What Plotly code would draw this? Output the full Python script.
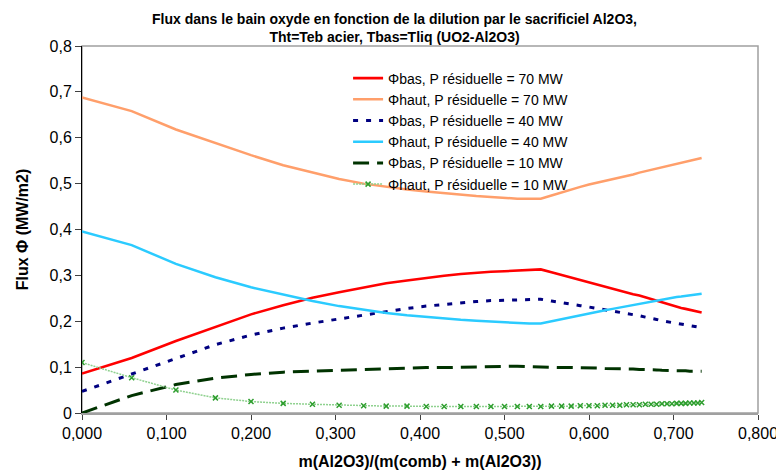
import plotly.graph_objects as go

# x = m(Al2O3)/(m(comb)+m(Al2O3))
x_dilution = [0.0, 0.0588, 0.1111, 0.1579, 0.2, 0.2381, 0.2727, 0.3043, 0.3333, 0.36,
              0.3846, 0.4074, 0.4286, 0.4483, 0.4667, 0.4839, 0.5, 0.5152, 0.5294, 0.5429,
              0.5556, 0.5676, 0.5789, 0.5897, 0.6, 0.6098, 0.619, 0.6279, 0.6364, 0.6444,
              0.6522, 0.6596, 0.6667, 0.6735, 0.68, 0.6863, 0.6923, 0.6981, 0.7037, 0.7091,
              0.7143, 0.7193, 0.7241, 0.7288, 0.7333]

phi_bas_70 = [0.086, 0.120, 0.157, 0.188, 0.215, 0.235, 0.251, 0.263, 0.273, 0.283,
              0.289, 0.295, 0.299, 0.303, 0.306, 0.308, 0.309, 0.310, 0.311, 0.313,
              0.307, 0.301, 0.295, 0.289, 0.284, 0.279, 0.275, 0.271, 0.267, 0.263,
              0.259, 0.256, 0.252, 0.248, 0.244, 0.241, 0.238, 0.235, 0.232, 0.229,
              0.227, 0.225, 0.223, 0.221, 0.219]

phi_haut_70 = [0.688, 0.658, 0.618, 0.588, 0.562, 0.540, 0.524, 0.510, 0.500, 0.493,
               0.487, 0.483, 0.479, 0.476, 0.473, 0.471, 0.469, 0.467, 0.467, 0.467,
               0.474, 0.481, 0.487, 0.493, 0.498, 0.502, 0.506, 0.510, 0.514, 0.517,
               0.520, 0.524, 0.527, 0.530, 0.533, 0.536, 0.539, 0.541, 0.544, 0.546,
               0.548, 0.550, 0.552, 0.554, 0.556]

phi_bas_40 = [0.047, 0.085, 0.119, 0.149, 0.170, 0.185, 0.196, 0.205, 0.213, 0.222,
              0.228, 0.233, 0.237, 0.240, 0.243, 0.245, 0.246, 0.247, 0.248, 0.248,
              0.244, 0.240, 0.237, 0.234, 0.231, 0.228, 0.225, 0.222, 0.219, 0.216,
              0.214, 0.212, 0.209, 0.207, 0.204, 0.201, 0.199, 0.197, 0.195, 0.193,
              0.192, 0.190, 0.189, 0.187, 0.186]

phi_haut_40 = [0.396, 0.366, 0.325, 0.296, 0.274, 0.258, 0.244, 0.233, 0.225, 0.218,
               0.213, 0.209, 0.206, 0.203, 0.201, 0.199, 0.197, 0.196, 0.195, 0.195,
               0.200, 0.205, 0.209, 0.213, 0.217, 0.220, 0.224, 0.227, 0.230, 0.233,
               0.236, 0.239, 0.241, 0.244, 0.246, 0.248, 0.249, 0.251, 0.253, 0.254,
               0.255, 0.257, 0.258, 0.259, 0.260]

phi_bas_10 = [0.000, 0.038, 0.062, 0.076, 0.084, 0.089, 0.091, 0.093, 0.095, 0.097,
              0.098, 0.099, 0.099, 0.100, 0.100, 0.101, 0.101, 0.102, 0.101, 0.100,
              0.100, 0.099, 0.099, 0.099, 0.098, 0.098, 0.097, 0.097, 0.096, 0.096,
              0.096, 0.095, 0.095, 0.094, 0.094, 0.093, 0.093, 0.093, 0.092, 0.092,
              0.092, 0.091, 0.091, 0.091, 0.091]

phi_haut_10 = [0.110, 0.077, 0.050, 0.033, 0.025, 0.021, 0.019, 0.017, 0.016, 0.015,
               0.015, 0.014, 0.014, 0.014, 0.014, 0.014, 0.014, 0.014, 0.014, 0.014,
               0.015, 0.015, 0.015, 0.016, 0.016, 0.016, 0.017, 0.017, 0.017, 0.018,
               0.018, 0.018, 0.019, 0.019, 0.019, 0.020, 0.020, 0.020, 0.021, 0.021,
               0.021, 0.022, 0.022, 0.022, 0.023]

series_names = ["Φbas, P résiduelle = 70 MW", "Φhaut, P résiduelle = 70 MW",
                "Φbas, P résiduelle = 40 MW", "Φhaut, P résiduelle = 40 MW",
                "Φbas, P résiduelle = 10 MW", "Φhaut, P résiduelle = 10 MW"]

x_tick_vals = [0.0, 0.1, 0.2, 0.3, 0.4, 0.5, 0.6, 0.7, 0.8]
x_tick_text = ["0,000", "0,100", "0,200", "0,300", "0,400", "0,500", "0,600", "0,700", "0,800"]
y_tick_vals = [0.0, 0.1, 0.2, 0.3, 0.4, 0.5, 0.6, 0.7, 0.8]
y_tick_text = ["0", "0,1", "0,2", "0,3", "0,4", "0,5", "0,6", "0,7", "0,8"]

FONT = "Liberation Sans, Arial, sans-serif"

fig = go.Figure()
fig.add_trace(go.Scatter(x=x_dilution, y=phi_bas_70, name=series_names[0], mode="lines",
                         line=dict(color="#FF0000", width=2.6)))
fig.add_trace(go.Scatter(x=x_dilution, y=phi_haut_70, name=series_names[1], mode="lines",
                         line=dict(color="#FF9F6B", width=2.5)))
fig.add_trace(go.Scatter(x=x_dilution, y=phi_bas_40, name=series_names[2], mode="lines",
                         line=dict(color="#000080", width=3, dash="5px,8px")))
fig.add_trace(go.Scatter(x=x_dilution, y=phi_haut_40, name=series_names[3], mode="lines",
                         line=dict(color="#2BCBFF", width=2.5)))
fig.add_trace(go.Scatter(x=x_dilution, y=phi_bas_10, name=series_names[4], mode="lines",
                         line=dict(color="#003300", width=3, dash="16px,8px")))
fig.add_trace(go.Scatter(x=x_dilution, y=phi_haut_10, name=series_names[5], mode="lines+markers",
                         line=dict(color="#8FD18F", width=1.5, dash="2px,1px"),
                         marker=dict(symbol="x-thin", size=5, color="#2E9E2E",
                                     line=dict(color="#2E9E2E", width=1.5))))

fig.update_layout(
    width=784, height=474,
    paper_bgcolor="white", plot_bgcolor="white",
    margin=dict(l=74, r=34, t=38, b=69),
    font=dict(family=FONT, size=16, color="black"),
    title=dict(text="<b>Flux dans le bain oxyde en fonction de la dilution par le sacrificiel Al2O3,<br>Tht=Teb acier, Tbas=Tliq (UO2-Al2O3)</b>",
               x=0.493, xanchor="center", y=0.966, yanchor="top",
               font=dict(family=FONT, size=14, color="black")),
    showlegend=True,
    legend=dict(x=0.3936, xanchor="left", y=0.955, yanchor="top",
                bgcolor="rgba(255,255,255,0)", borderwidth=0,
                font=dict(family=FONT, size=14, color="black"),
                tracegroupgap=0),
    shapes=[dict(type="rect", xref="paper", yref="paper", x0=0, x1=1, y0=0, y1=1,
                 line=dict(color="#A0A0A0", width=1.5), layer="below")],
)

fig.update_xaxes(range=[0, 0.8], tickvals=x_tick_vals, ticktext=x_tick_text,
                 showgrid=False, zeroline=False, showline=True, linecolor="#A0A0A0", linewidth=2,
                 ticks="outside", ticklen=5, tickcolor="#404040", tickwidth=1,
                 tickfont=dict(family=FONT, size=16),
                 title=dict(text="<b>m(Al2O3)/(m(comb) + m(Al2O3))</b>", standoff=15,
                            font=dict(family=FONT, size=16)))
fig.update_yaxes(range=[0, 0.8], tickvals=y_tick_vals, ticktext=y_tick_text,
                 showgrid=False, zeroline=False, showline=True, linecolor="black", linewidth=1,
                 ticks="outside", ticklen=6, tickcolor="#404040", tickwidth=1,
                 tickfont=dict(family=FONT, size=16),
                 title=dict(text="<b>Flux Φ (MW/m2)</b>", standoff=16,
                            font=dict(family=FONT, size=16)))

fig.write_html("out.html")
